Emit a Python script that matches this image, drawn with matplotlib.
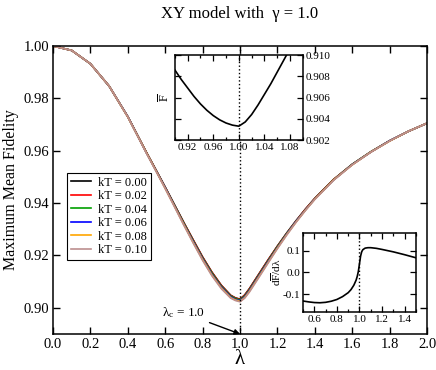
import matplotlib
matplotlib.use('Agg')
import matplotlib.pyplot as plt
from matplotlib.ticker import MultipleLocator, FormatStrFormatter

plt.rcParams['font.family'] = ['Liberation Serif', 'DejaVu Serif']
plt.rcParams['mathtext.fontset'] = 'custom'
plt.rcParams['mathtext.rm'] = 'Liberation Serif'
plt.rcParams['mathtext.it'] = 'Liberation Serif:italic'

# main panel: maximum mean fidelity vs lambda for several temperatures
lam = [0.0, 0.1, 0.2, 0.3, 0.4, 0.5, 0.55, 0.6, 0.65, 0.7, 0.75, 0.8, 0.85, 0.9,
       0.95, 0.975, 1.0, 1.025, 1.05, 1.1, 1.15, 1.2, 1.25, 1.3, 1.35, 1.4, 1.5,
       1.6, 1.7, 1.8, 1.9, 2.0]
kt_labels = ['kT = 0.00', 'kT = 0.02', 'kT = 0.04', 'kT = 0.06', 'kT = 0.08', 'kT = 0.10']
f_kt000 = [1.0000, 0.9983, 0.9932, 0.9847, 0.9730, 0.9593, 0.9527, 0.9461, 0.9393, 0.9325,
           0.9259, 0.9194, 0.9136, 0.9086, 0.9048, 0.9038, 0.9033, 0.9049, 0.9073, 0.9128,
           0.9183, 0.9236, 0.9286, 0.9333, 0.9377, 0.9418, 0.9490, 0.9548, 0.9596, 0.9638,
           0.9674, 0.9705]
f_kt002 = [1.0000, 0.9983, 0.9932, 0.9847, 0.9730, 0.9593, 0.9527, 0.9460, 0.9392, 0.9324,
           0.9258, 0.9193, 0.9135, 0.9085, 0.9047, 0.9037, 0.9032, 0.9048, 0.9072, 0.9127,
           0.9182, 0.9235, 0.9285, 0.9332, 0.9377, 0.9418, 0.9490, 0.9548, 0.9596, 0.9638,
           0.9674, 0.9705]
f_kt004 = [1.0000, 0.9983, 0.9932, 0.9847, 0.9730, 0.9592, 0.9526, 0.9459, 0.9391, 0.9322,
           0.9255, 0.9190, 0.9132, 0.9082, 0.9045, 0.9035, 0.9030, 0.9045, 0.9069, 0.9124,
           0.9179, 0.9233, 0.9284, 0.9331, 0.9375, 0.9417, 0.9489, 0.9548, 0.9596, 0.9638,
           0.9674, 0.9705]
f_kt006 = [1.0000, 0.9983, 0.9932, 0.9847, 0.9730, 0.9591, 0.9525, 0.9458, 0.9389, 0.9319,
           0.9252, 0.9187, 0.9128, 0.9079, 0.9042, 0.9032, 0.9027, 0.9042, 0.9066, 0.9121,
           0.9176, 0.9230, 0.9282, 0.9330, 0.9374, 0.9416, 0.9488, 0.9547, 0.9595, 0.9638,
           0.9674, 0.9705]
f_kt008 = [1.0000, 0.9983, 0.9932, 0.9847, 0.9729, 0.9591, 0.9524, 0.9456, 0.9387, 0.9317,
           0.9249, 0.9184, 0.9125, 0.9076, 0.9039, 0.9030, 0.9025, 0.9039, 0.9063, 0.9118,
           0.9173, 0.9228, 0.9280, 0.9328, 0.9373, 0.9415, 0.9488, 0.9546, 0.9595, 0.9637,
           0.9674, 0.9705]
f_kt010 = [1.0000, 0.9983, 0.9932, 0.9847, 0.9729, 0.9590, 0.9523, 0.9455, 0.9385, 0.9315,
           0.9247, 0.9181, 0.9122, 0.9073, 0.9037, 0.9028, 0.9023, 0.9037, 0.9060, 0.9115,
           0.9171, 0.9226, 0.9278, 0.9327, 0.9372, 0.9414, 0.9487, 0.9546, 0.9595, 0.9637,
           0.9674, 0.9705]
colors = ['black', 'red', '#00a000', 'blue', '#ffa500', '#bc8f8f']

# upper inset: zoom of the kT = 0 curve around the minimum
lam_in1 = [0.90, 0.91, 0.92, 0.93, 0.94, 0.95, 0.96, 0.97, 0.98, 0.99, 1.00,
           1.01, 1.02, 1.03, 1.04, 1.05, 1.06, 1.07, 1.08, 1.09, 1.10]
f_in1 = [0.9086, 0.9077, 0.9069, 0.9061, 0.9054, 0.9048, 0.9043, 0.9039, 0.9036, 0.9034, 0.9033,
         0.9037, 0.9044, 0.9053, 0.9063, 0.9073, 0.9084, 0.9095, 0.9106, 0.9117, 0.9128]

# lower inset: derivative dF/dlambda
lam_in2 = [0.5, 0.55, 0.6, 0.65, 0.7, 0.75, 0.8, 0.85, 0.9, 0.925, 0.95, 0.97, 0.98,
           0.99, 1.0, 1.01, 1.02, 1.03, 1.05, 1.075, 1.1, 1.15, 1.2, 1.3, 1.4, 1.5]
df_in2 = [-0.130, -0.134, -0.137, -0.138, -0.136, -0.131, -0.123, -0.110, -0.092, -0.078,
          -0.058, -0.035, -0.018, 0.005, 0.040, 0.075, 0.095, 0.104, 0.111, 0.113,
          0.113, 0.110, 0.105, 0.094, 0.081, 0.067]

fig = plt.figure(figsize=(4.36, 3.70), dpi=100)
ax = fig.add_axes([0.1216, 0.0973, 0.8578, 0.7784])

series = [f_kt000, f_kt002, f_kt004, f_kt006, f_kt008, f_kt010]
for vals, lab, c in zip(series, kt_labels, colors):
    ax.plot(lam, vals, color=c, lw=1.2, label=lab)

ax.axvline(1.0, color='black', ls=':', lw=1.0)
ax.set_xlim(0, 2.0)
ax.set_ylim(0.89, 1.0)
ax.xaxis.set_major_locator(MultipleLocator(0.2))
ax.yaxis.set_major_locator(MultipleLocator(0.02))
ax.xaxis.set_major_formatter(FormatStrFormatter('%.1f'))
ax.yaxis.set_major_formatter(FormatStrFormatter('%.2f'))
ax.tick_params(direction='in', top=True, right=True, length=5, width=1, labelsize=10.5, pad=3)
for s in ax.spines.values():
    s.set_linewidth(1.1)
ax.set_xlabel('λ', fontsize=15, labelpad=-1)
ax.set_ylabel('Maximum Mean Fidelity', fontsize=11.5, labelpad=3)
fig.text(0.55, 0.962, 'XY model with  γ = 1.0', ha='center', va='center', fontsize=12)

ax.annotate('λ$_\\mathrm{c}$ = 1.0', xy=(1.0, 0.89), xytext=(0.815, 0.898),
            ha='right', va='center', fontsize=9.5,
            arrowprops=dict(arrowstyle='-|>', color='black', lw=1.0, mutation_scale=8,
                            shrinkA=1, shrinkB=0))

leg = ax.legend(loc='upper left', bbox_to_anchor=(0.037, 0.559), fontsize=9,
                frameon=True, fancybox=False, edgecolor='black', framealpha=1,
                borderaxespad=0, handlelength=1.6, handletextpad=0.6,
                labelspacing=0.12, borderpad=0.3)
leg.get_frame().set_linewidth(0.8)

# upper inset
ax1 = fig.add_axes([0.401, 0.6216, 0.2936, 0.2297])
ax1.plot(lam_in1, f_in1, color='black', lw=1.2)
ax1.axvline(1.0, color='black', ls=':', lw=1.0)
ax1.set_xlim(0.9, 1.1)
ax1.set_ylim(0.902, 0.910)
ax1.xaxis.set_major_locator(MultipleLocator(0.04))
ax1.xaxis.set_minor_locator(MultipleLocator(0.02))
ax1.yaxis.set_major_locator(MultipleLocator(0.002))
ax1.xaxis.set_major_formatter(FormatStrFormatter('%.2f'))
ax1.yaxis.set_major_formatter(FormatStrFormatter('%.3f'))
ax1.tick_params(which='both', direction='in', top=True, right=True, labelsize=8, pad=2)
ax1.tick_params(axis='y', labelleft=False, labelright=True)
ax1.tick_params(which='major', length=4, width=0.9)
ax1.tick_params(which='minor', length=2.5, width=0.9)
ax1.set_ylabel('$\\overline{\\mathrm{F}}$', fontsize=9, labelpad=2)
for s in ax1.spines.values():
    s.set_linewidth(1.1)

# lower inset
ax2 = fig.add_axes([0.695, 0.1568, 0.259, 0.2135])
ax2.plot(lam_in2, df_in2, color='black', lw=1.2)
ax2.axvline(1.0, color='black', ls=':', lw=1.0)
ax2.set_xlim(0.5, 1.5)
ax2.set_ylim(-0.18, 0.18)
ax2.xaxis.set_major_locator(MultipleLocator(0.2))
ax2.xaxis.set_minor_locator(MultipleLocator(0.1))
ax2.yaxis.set_major_locator(MultipleLocator(0.1))
ax2.xaxis.set_major_formatter(FormatStrFormatter('%.1f'))
ax2.yaxis.set_major_formatter(FormatStrFormatter('%.1f'))
ax2.tick_params(which='both', direction='in', top=True, right=True, labelsize=8, pad=2)
ax2.tick_params(which='major', length=4, width=0.9)
ax2.tick_params(which='minor', length=2.5, width=0.9)
ax2.set_ylabel('d$\\overline{\\mathrm{F}}$/dλ', fontsize=8, labelpad=0)
for s in ax2.spines.values():
    s.set_linewidth(1.1)

fig.savefig('out.png', dpi=100)
